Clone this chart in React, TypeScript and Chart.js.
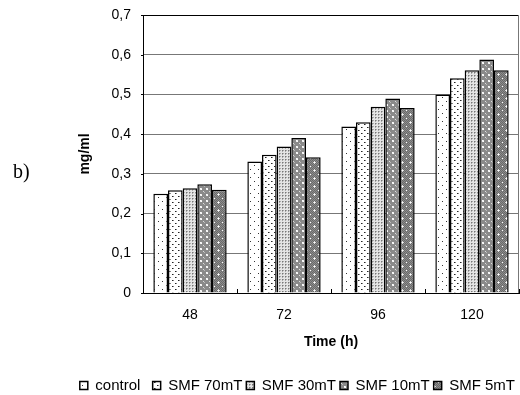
import React, { useEffect, useRef } from "react";
import { Chart, registerables } from "chart.js";

Chart.register(...registerables);

const categories = ["48", "72", "96", "120"];
const seriesNames = ["control  ", "SMF 70mT", "SMF 30mT", "SMF 10mT", "SMF 5mT"];
const control = [0.25, 0.331, 0.419, 0.5];
const smf70 = [0.259, 0.348, 0.43, 0.541];
const smf30 = [0.264, 0.369, 0.469, 0.561];
const smf10 = [0.274, 0.39, 0.49, 0.588];
const smf5 = [0.26, 0.342, 0.466, 0.561];
const yTicks = [0, 0.1, 0.2, 0.3, 0.4, 0.5, 0.6, 0.7];

const FONT = "'Liberation Sans', Arial, sans-serif";

function makePattern(kind: number): CanvasPattern | string {
  const c = document.createElement("canvas");
  const ctx = c.getContext("2d");
  if (!ctx) return "#fff";
  const px = (x: number, y: number, col: string) => {
    ctx.fillStyle = col;
    ctx.fillRect(x, y, 1, 1);
  };
  if (kind === 0) {
    c.width = 8; c.height = 8;
    ctx.fillStyle = "#fff"; ctx.fillRect(0, 0, 8, 8);
    px(2, 1, "#333"); px(6, 5, "#333");
  } else if (kind === 1) {
    c.width = 6; c.height = 6;
    ctx.fillStyle = "#fff"; ctx.fillRect(0, 0, 6, 6);
    px(1, 1, "#222"); px(4, 4, "#222"); px(2, 1, "#888"); px(5, 4, "#888");
  } else if (kind === 2) {
    c.width = 3; c.height = 3;
    ctx.fillStyle = "#e4e4e4"; ctx.fillRect(0, 0, 3, 3);
    px(0, 0, "#777"); px(1, 0, "#aaa"); px(0, 1, "#aaa");
  } else if (kind === 3) {
    c.width = 6; c.height = 6;
    ctx.fillStyle = "#8a8a8a"; ctx.fillRect(0, 0, 6, 6);
    px(2, 2, "#fff"); px(3, 2, "#eee"); px(2, 3, "#eee"); px(3, 3, "#fff");
    px(5, 5, "#ddd"); px(0, 0, "#bbb");
  } else {
    c.width = 8; c.height = 8;
    for (let y = 0; y < 8; y++)
      for (let x = 0; x < 8; x++) px(x, y, (x + y) % 2 === 0 ? "#6a6a6a" : "#8c8c8c");
    px(2, 2, "#fff"); px(6, 6, "#fff"); px(1, 2, "#ddd"); px(2, 1, "#ddd"); px(3, 2, "#ddd"); px(2, 3, "#ddd");
  }
  return ctx.createPattern(c, "repeat") as CanvasPattern;
}

const frame = {
  id: "frame",
  afterDraw(chart: any) {
    const { ctx, chartArea } = chart;
    const ys = chart.scales.y;
    ctx.save();
    ctx.strokeStyle = "#000";
    ctx.lineWidth = 1;
    ctx.beginPath();
    ctx.moveTo(chartArea.left, chartArea.top + 0.5);
    ctx.lineTo(chartArea.right, chartArea.top + 0.5);
    for (const v of yTicks) {
      const y = Math.round(ys.getPixelForValue(v)) + 0.5;
      ctx.moveTo(chartArea.left - 2, y);
      ctx.lineTo(chartArea.left, y);
    }
    ctx.stroke();
    ctx.strokeStyle = "#777";
    ctx.beginPath();
    ctx.moveTo(chartArea.right - 0.5, chartArea.top);
    ctx.lineTo(chartArea.right - 0.5, chartArea.bottom);
    ctx.stroke();
    ctx.restore();
  },
};

export default function App() {
  const ref = useRef<HTMLCanvasElement>(null);
  useEffect(() => {
    if (!ref.current) return;
    Chart.defaults.font.family = FONT;
    Chart.defaults.color = "#000";
    const values = [control, smf70, smf30, smf10, smf5];
    const chart = new Chart(ref.current, {
      type: "bar",
      data: {
        labels: categories,
        datasets: values.map((v, i) => ({
          label: seriesNames[i],
          data: v,
          backgroundColor: makePattern(i) as any,
          borderColor: "#000",
          borderWidth: 1.5,
          categoryPercentage: 0.78,
          barPercentage: 1,
        })),
      },
      options: {
        animation: false,
        responsive: false,
        maintainAspectRatio: false,
        layout: { padding: { left: 0, right: 1, top: 15, bottom: -8 } },
        plugins: {
          tooltip: { enabled: false },
          legend: {
            position: "bottom",
            align: "end",
            labels: {
              boxWidth: 8,
              boxHeight: 8,
              padding: 4,
              font: { size: 15 },
              color: "#000",
            },
          },
        },
        scales: {
          x: {
            afterFit: (s: any) => { s.height = 81; },
            grid: { drawOnChartArea: false, drawTicks: true, tickLength: -4, color: "#000" },
            border: { color: "#000", width: 1 },
            ticks: { padding: 18, font: { size: 14 }, color: "#000" },
            title: { display: true, text: "Time (h)", font: { size: 14, weight: "bold" }, color: "#000", padding: { top: 0, bottom: 23 } },
          },
          y: {
            min: 0,
            max: 0.7,
            afterFit: (s: any) => { s.width = 143; },
            afterBuildTicks: (s: any) => { s.ticks = yTicks.map((v) => ({ value: v })); },
            grid: { color: "#777", tickLength: 12, tickColor: "rgba(0,0,0,0)" },
            border: { color: "#000", width: 1 },
            ticks: {
              padding: 0,
              font: { size: 14 },
              color: "#000",
              callback: (v: any) => (Number(v) === 0 ? "0" : Number(v).toFixed(1).replace(".", ",")),
            },
            title: { display: true, text: "mg/ml", font: { size: 14, weight: "bold" }, color: "#000", padding: { top: 77, bottom: 0 } },
          },
        },
      },
      plugins: [frame],
    });
    return () => chart.destroy();
  }, []);
  return (
    <div style={{ position: "fixed", left: 0, top: 0, width: 520, height: 395, background: "#fff" }}>
      <canvas ref={ref} width={520} height={395} style={{ position: "absolute", left: 0, top: 0 }} />
      <div style={{ position: "absolute", left: 13, top: 160, fontFamily: "'Liberation Serif', 'Times New Roman', serif", fontSize: 20, color: "#000" }}>b)</div>
    </div>
  );
}
